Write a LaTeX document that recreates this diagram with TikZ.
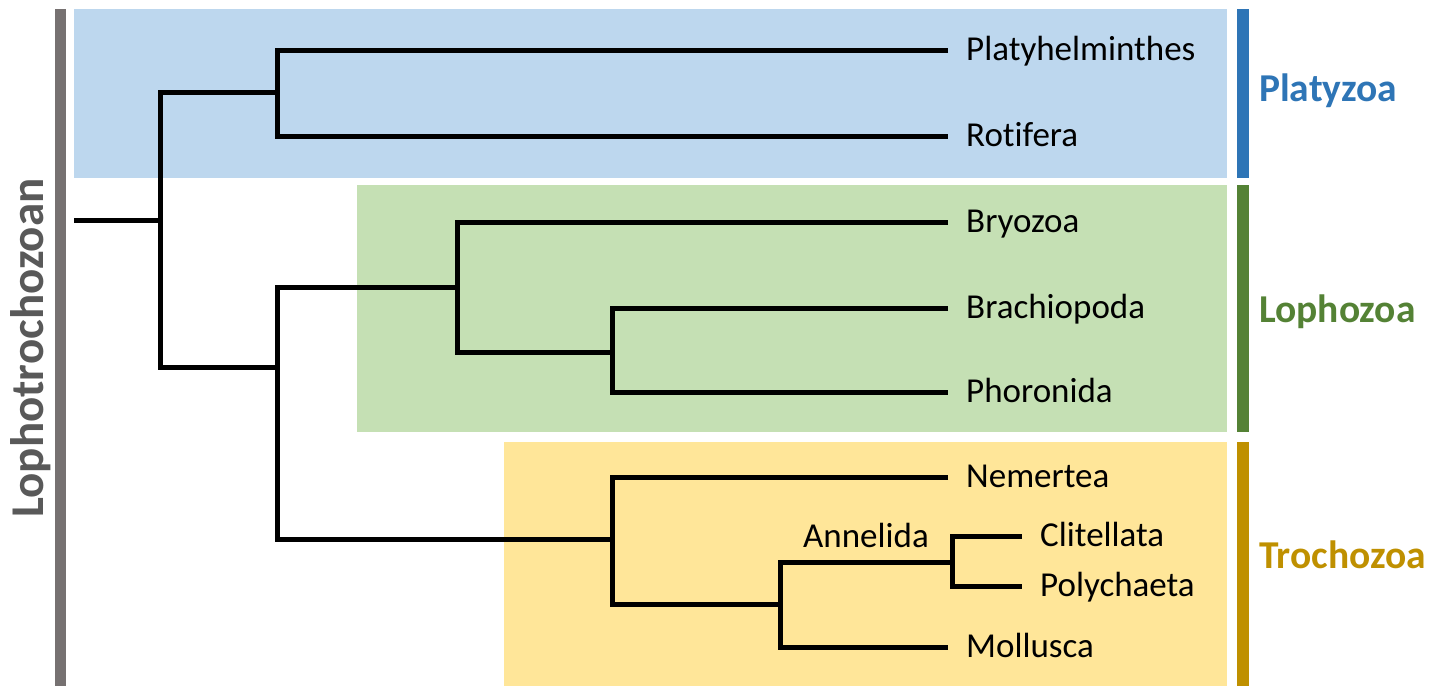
\documentclass[tikz,border=0pt]{standalone}
\usepackage{fontspec}
\setmainfont{Carlito}[Ligatures=NoCommon]

\definecolor{platyfill}{HTML}{BDD7EE}
\definecolor{lophofill}{HTML}{C5E0B4}
\definecolor{trochofill}{HTML}{FFE699}
\definecolor{platybar}{HTML}{2E75B6}
\definecolor{lophobar}{HTML}{548235}
\definecolor{trochobar}{HTML}{BF9000}
\definecolor{rootbar}{HTML}{767171}
\definecolor{roottext}{HTML}{595959}

\begin{document}
\begin{tikzpicture}[x=1pt, y=-1pt,
    branch/.style={line width=5pt, black},
    leaf/.style={anchor=west, inner xsep=18pt, inner ysep=0pt,
        text height=21pt, text depth=0pt, font=\fontsize{35}{35}\selectfont},
    group/.style={anchor=base west, inner sep=0pt,
        font=\fontsize{39.5}{39.5}\selectfont\bfseries},
    groupbar/.style={line width=12pt}]

\useasboundingbox (0, 0) rectangle (1431, 686);

% clade boxes
\fill[platyfill] (74, 9) rectangle (1227, 178);
\fill[lophofill] (357, 185) rectangle (1227, 432);
\fill[trochofill] (504, 442) rectangle (1227, 686);

% bars
\draw[rootbar, line width=11pt] (60, 9) -- (60, 686);
\draw[groupbar, platybar] (1243, 9) -- (1243, 178);
\draw[groupbar, lophobar] (1243, 185) -- (1243, 432);
\draw[groupbar, trochobar] (1243, 442) -- (1243, 686);

\node[rotate=90, anchor=base, inner sep=0pt, text=roottext,
    font=\fontsize{47}{47}\selectfont\bfseries] (lopho) at (43, 348) {Lophotrochozoan};
\node[group, text=platybar] (platyzoa) at (1259, 101) {Platyzoa};
\node[group, text=lophobar] (lophozoa) at (1259, 322) {Lophozoa};
\node[group, text=trochobar] (trochozoa) at (1259, 568) {Trochozoa};

% leaves
\node[leaf] (platy) at (948, 50) {Platyhelminthes};
\node[leaf] (rotif) at (948, 136) {Rotifera};
\node[leaf] (bryo) at (948, 222) {Bryozoa};
\node[leaf] (brach) at (948, 308) {Brachiopoda};
\node[leaf] (phor) at (948, 392) {Phoronida};
\node[leaf] (nem) at (948, 477) {Nemertea};
\node[leaf] (clit) at (1022, 536) {Clitellata};
\node[leaf] (poly) at (1022, 586) {Polychaeta};
\node[leaf] (moll) at (948, 647) {Mollusca};

% splits
\coordinate (root) at (74, 220);
\coordinate (n1) at (160, 220);
\coordinate (pz) at (277, 92);
\coordinate (n2) at (277, 367);
\coordinate (lz) at (457, 287);
\coordinate (br) at (612, 352);
\coordinate (tz) at (612, 539);
\coordinate (mo) at (780, 604);
\coordinate (an) at (952, 562);

\draw[branch] (root) -- (n1);
\draw[branch] (pz) -| (n1) |- (n2);
\draw[branch] (platy.west) -| (pz) |- (rotif.west);
\draw[branch] (lz) -| (n2) |- (tz);
\draw[branch] (bryo.west) -| (lz) |- (br);
\draw[branch] (brach.west) -| (br) |- (phor.west);
\draw[branch] (nem.west) -| (tz) |- (mo);
\draw[branch] (an) -| node[pos=0.25, above=15pt, anchor=base, inner sep=0pt,
    font=\fontsize{35}{35}\selectfont] (annelida) {Annelida} (mo) |- (moll.west);
\draw[branch] (clit.west) -| (an) |- (poly.west);

\end{tikzpicture}
\end{document}
